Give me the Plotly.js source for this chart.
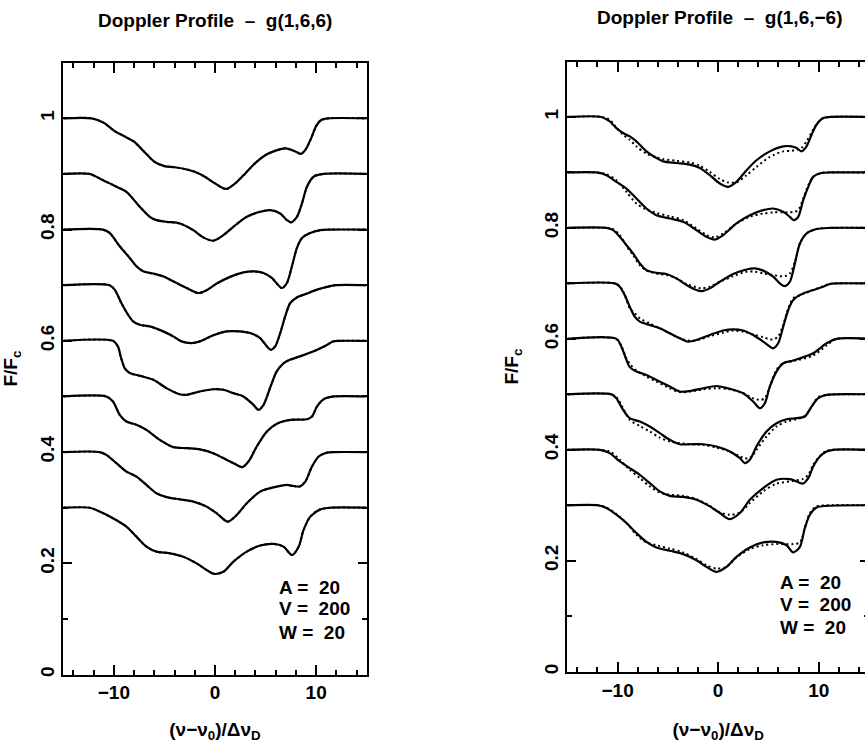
<!DOCTYPE html>
<html><head><meta charset="utf-8">
<script src="https://cdn.plot.ly/plotly-3.0.1.min.js"></script>
<style>html,body{margin:0;padding:0;overflow:hidden;background:#fff;width:865px;height:743px}#g{width:872px;height:743px}</style>
</head><body><div id="g"></div>
<script>
// ---- Left panel: g(1,6,6) (solid model ≈ dotted observation) ----
const L1x=[-15,-12.2,-11,-10,-9,-8,-7,-6,-5,-4,-3,-2,-1,0,1.1,2,3,4,5,6,7,8,8.5,9,9.5,10,10.5,11.2,15];
const L1y=[1,1,.992,.978,.968,.958,.940,.922,.914,.912,.909,.904,.895,.883,.873,.883,.901,.920,.934,.942,.946,.940,.936,.945,.964,.986,.997,1,1];
const L2x=[-15,-12.4,-11.41,-10.09,-8.76,-7.44,-6.45,-5.79,-4.79,-3.47,-2.15,-1.16,-0.17,0.83,1.82,3.14,4.46,5.46,6.45,7.11,7.51,8.1,8.6,9.09,9.75,10.75,15];
const L2y=[.9,.9,.892,.880,.868,.841,.823,.817,.814,.811,.799,.786,.780,.790,.805,.823,.832,.835,.829,.817,.813,.823,.847,.877,.895,.9,.9];
const L3x=[-15,-11.08,-10.42,-9.42,-8.43,-7.77,-7.11,-6.12,-5.13,-4.13,-2.81,-1.65,-0.83,0.17,1.49,2.81,3.80,4.79,5.62,6.61,7.11,7.61,8.1,8.6,9.42,10.42,11.41,15];
const L3y=[.8,.8,.794,.770,.749,.734,.725,.721,.716,.707,.695,.686,.691,.703,.715,.723,.725,.722,.713,.695,.704,.734,.767,.785,.794,.799,.8,.8];
const L4x=[-15,-10.42,-9.92,-9.26,-8.6,-8.1,-7.44,-6.45,-5.13,-4.13,-3.31,-2.31,-1.49,-0.17,1.16,2.48,3.47,4.46,5.13,5.52,5.95,6.45,6.94,7.44,8.1,9.09,10.09,11.08,11.9,15];
const L4y=[.7,.7,.692,.668,.647,.635,.629,.626,.617,.608,.599,.596,.599,.610,.617,.617,.614,.605,.590,.584,.590,.614,.644,.668,.678,.685,.692,.697,.7,.7];
const L5x=[-15,-10.1,-9.6,-9.3,-8.9,-8.4,-7.4,-6.1,-4.8,-3.5,-2.8,-1.5,-0.17,0.83,1.8,2.8,3.8,4.3,4.8,5.5,6.1,6.8,7.4,8.4,10.1,11.1,11.7,12.3,15];
const L5y=[.6,.6,.59,.57,.55,.542,.537,.53,.515,.504,.503,.509,.513,.512,.506,.50,.485,.476,.485,.518,.545,.56,.566,.572,.584,.593,.599,.6,.6];
const L6x=[-15,-10.75,-10.09,-9.42,-8.76,-7.77,-6.78,-5.46,-4.13,-2.81,-1.49,-0.17,1.16,2.15,2.71,3.31,4.13,5.13,6.12,7.44,9.09,9.59,10.09,10.75,11.74,15];
const L6y=[.5,.5,.491,.467,.455,.449,.440,.422,.409,.407,.405,.398,.386,.377,.373,.383,.410,.437,.451,.458,.459,.464,.482,.495,.5,.5];
const L7x=[-15,-11.41,-10.75,-9.75,-8.76,-7.77,-6.78,-5.79,-4.79,-3.47,-2.15,-0.83,0.17,1.26,2.15,3.14,4.46,6.12,7.11,7.77,8.37,8.93,9.59,10.25,11.08,11.74,15];
const L7y=[.4,.4,.395,.380,.365,.356,.341,.326,.319,.315,.311,.302,.290,.275,.287,.308,.329,.338,.341,.339,.338,.347,.374,.392,.399,.4,.4];
const L8x=[-15,-12.4,-11.41,-10.09,-8.76,-7.77,-6.78,-5.79,-4.46,-3.14,-1.82,-0.83,-0.07,0.83,1.82,3.14,4.46,5.79,6.78,7.61,8.27,8.76,9.42,10.42,11.41,15];
const L8y=[.3,.3,.293,.281,.266,.248,.230,.221,.218,.212,.200,.188,.181,.185,.203,.221,.232,.235,.230,.215,.230,.260,.284,.297,.3,.3];

// ---- Right panel: g(1,6,-6): solid (s) and dotted (d) ----
const R1x=[-15,-11.61,-10.78,-10.12,-9.45,-8.79,-8.13,-7.13,-6.14,-5.47,-4.15,-2.82,-1.82,-0.83,0.17,1.0,1.82,2.82,3.81,5.14,6.47,7.3,7.8,8.29,8.79,9.29,9.78,10.45,11.11,15];
const R1s=[1,1,.992,.980,.971,.965,.956,.938,.926,.920,.917,.914,.908,.895,.880,.874,.883,.904,.922,.938,.947,.947,.944,.938,.947,.968,.986,.998,1,1];
const R1d=[1,1,.995,.981,.968,.959,.947,.934,.927,.924,.921,.918,.912,.901,.888,.882,.882,.895,.910,.928,.938,.939,.941,.944,.956,.972,.987,.998,1,1];
const R2x=[-15,-12.1,-11.11,-10.12,-9.12,-8.13,-7.13,-6.14,-4.81,-3.48,-2.16,-1.16,-0.33,0.5,1.82,3.15,4.48,5.47,6.47,7.13,7.53,7.96,8.46,8.96,9.45,10.28,11.11,15];
const R2s=[.9,.9,.895,.883,.871,.853,.835,.823,.817,.811,.796,.784,.779,.787,.808,.823,.832,.835,.829,.820,.814,.820,.850,.874,.892,.899,.9,.9];
const R2d=[.9,.9,.897,.886,.865,.844,.833,.827,.821,.814,.799,.787,.783,.790,.808,.820,.826,.828,.828,.828,.829,.832,.853,.877,.892,.899,.9,.9];
const R3x=[-15,-11.11,-10.45,-9.78,-9.12,-8.46,-7.79,-7.13,-6.14,-5.14,-4.15,-3.15,-2.16,-1.66,-0.83,0.17,1.49,2.82,3.65,4.48,5.47,6.14,6.63,7.13,7.63,8.13,8.79,9.78,11.11,15];
const R3s=[.8,.8,.796,.784,.769,.754,.736,.724,.719,.717,.709,.697,.688,.686,.691,.703,.717,.725,.727,.723,.712,.700,.695,.703,.736,.772,.790,.798,.8,.8];
const R3d=[.8,.8,.798,.787,.768,.751,.733,.723,.718,.715,.709,.699,.693,.691,.694,.703,.713,.721,.721,.718,.715,.713,.713,.718,.739,.772,.790,.798,.8,.8];
const R4x=[-15,-10.28,-9.78,-9.29,-8.79,-8.29,-7.79,-6.8,-5.8,-4.81,-3.81,-2.99,-2.16,-0.83,0.5,1.49,2.49,3.48,4.48,5.14,5.47,5.97,6.47,6.97,7.46,8.46,9.45,10.45,11.11,11.77,15];
const R4s=[.7,.7,.694,.679,.658,.640,.631,.625,.619,.610,.601,.595,.598,.607,.615,.617,.615,.607,.595,.586,.583,.592,.622,.652,.670,.682,.688,.694,.699,.7,.7];
const R4d=[.7,.7,.695,.679,.655,.646,.637,.628,.619,.610,.601,.597,.597,.605,.611,.615,.613,.608,.603,.599,.599,.604,.625,.655,.673,.681,.688,.695,.699,.7,.7];
const R5x=[-15,-10.12,-9.62,-9.12,-8.79,-8.13,-7.13,-6.14,-4.81,-3.81,-2.82,-1.49,-0.17,1.16,2.49,3.48,4.15,4.64,5.14,5.8,6.47,7.46,9.45,10.78,11.77,15];
const R5s=[.6,.6,.586,.562,.549,.541,.535,.526,.514,.505,.506,.511,.515,.510,.502,.487,.475,.484,.514,.541,.556,.561,.574,.592,.6,.6];
const R5d=[.6,.6,.587,.565,.555,.543,.532,.523,.511,.504,.505,.509,.511,.509,.502,.493,.490,.493,.514,.544,.556,.560,.570,.588,.6,.6];
const R6x=[-15,-10.61,-10.12,-9.45,-8.79,-7.79,-6.8,-5.8,-4.81,-3.81,-2.82,-1.49,-0.17,1.16,2.16,2.65,3.15,3.81,4.81,5.8,6.8,7.79,8.62,9.29,9.95,10.78,15];
const R6s=[.5,.5,.493,.472,.457,.451,.442,.430,.418,.410,.410,.410,.406,.397,.385,.376,.382,.406,.433,.448,.455,.457,.460,.478,.493,.499,.5];
const R6d=[.5,.5,.495,.475,.454,.443,.433,.422,.415,.412,.410,.409,.404,.397,.388,.385,.385,.400,.424,.442,.451,.455,.461,.478,.495,.499,.5];
const R7x=[-15,-11.77,-10.78,-9.78,-8.79,-7.79,-6.8,-5.8,-4.81,-3.48,-2.16,-0.83,0.17,1.16,2.16,3.15,4.48,5.8,7.13,7.79,8.39,8.96,9.45,10.12,10.78,11.44,15];
const R7s=[.4,.4,.394,.379,.367,.355,.340,.325,.317,.315,.310,.298,.286,.275,.286,.310,.331,.346,.347,.343,.339,.349,.370,.388,.397,.4,.4];
const R7d=[.4,.4,.397,.382,.364,.349,.334,.323,.319,.317,.311,.299,.287,.283,.287,.304,.325,.339,.343,.345,.347,.355,.373,.389,.398,.4,.4];
const R8x=[-15,-11.94,-11.11,-10.12,-9.12,-8.13,-7.13,-6.14,-4.81,-3.48,-2.16,-1.16,-0.17,0.83,1.82,3.15,4.48,5.8,6.8,7.46,8.13,8.62,9.12,9.78,10.78,15];
const R8s=[.3,.3,.295,.283,.268,.250,.234,.224,.218,.212,.201,.189,.180,.189,.207,.224,.233,.234,.228,.215,.225,.259,.283,.296,.299,.3];
const R8d=[.3,.3,.296,.284,.268,.247,.233,.228,.222,.215,.203,.192,.186,.189,.206,.221,.228,.230,.230,.230,.233,.259,.286,.298,.3,.3];

const xTicks=[-10,0,10];
const yTicks=[0,0.2,0.4,0.6,0.8,1];
const yTickText=["0","0.2","0.4","0.6","0.8","1"];
const paramLines=["A =\u00a0\u00a020","V =\u00a0\u00a0200","W =\u00a0\u00a020"];
const paramY=[0.157,0.118,0.075];

const FONT="Liberation Sans, Arial, sans-serif";
const W=872,H=743;
const traces=[];
const solid={color:"#000",width:2.2,shape:"spline",smoothing:0.8};
const dotted={color:"#000",width:2,dash:"2px,3px",shape:"spline",smoothing:0.8};
[[L1x,L1y],[L2x,L2y],[L3x,L3y],[L4x,L4y],[L5x,L5y],[L6x,L6y],[L7x,L7y],[L8x,L8y]].forEach(([x,y])=>{
  traces.push({x:x,y:y,xaxis:"x",yaxis:"y",mode:"lines",line:dotted,hoverinfo:"skip"});
  traces.push({x:x,y:y,xaxis:"x",yaxis:"y",mode:"lines",line:solid,hoverinfo:"skip"});
});
[[R1x,R1s,R1d],[R2x,R2s,R2d],[R3x,R3s,R3d],[R4x,R4s,R4d],[R5x,R5s,R5d],[R6x,R6s,R6d],[R7x,R7s,R7d],[R8x,R8s,R8d]].forEach(([x,s,d])=>{
  traces.push({x:x,y:d,xaxis:"x2",yaxis:"y2",mode:"lines",line:dotted,hoverinfo:"skip"});
  traces.push({x:x,y:s,xaxis:"x2",yaxis:"y2",mode:"lines",line:solid,hoverinfo:"skip"});
});

const tf={family:FONT,size:19,color:"#000",weight:"bold"};
function xa(dom,anchor){return {domain:dom,anchor:anchor,range:[-15,15],tickvals:xTicks,ticks:"inside",ticklen:10,tickwidth:2,tickcolor:"#000",
  minor:{dtick:2,tick0:0,ticks:"inside",ticklen:5,tickwidth:2,tickcolor:"#000"},
  showline:true,linewidth:2,linecolor:"#000",mirror:"allticks",showgrid:false,zeroline:false,
  tickfont:tf,title:{text:"(ν−ν<sub>0</sub>)/Δν<sub>D</sub>",font:tf}};}
function ya(dom,anchor){return {domain:dom,anchor:anchor,range:[0,1.1],tickvals:yTicks,ticktext:yTickText,ticks:"inside",ticklen:9,tickwidth:2,tickcolor:"#000",
  minor:{tickvals:[0.1,0.3,0.5,0.7,0.9],ticks:"inside",ticklen:5,tickwidth:2,tickcolor:"#000"},
  showline:true,linewidth:2,linecolor:"#000",mirror:"allticks",showgrid:false,zeroline:false,tickangle:-90,
  tickfont:tf,title:{text:"F/F<sub>c</sub>",font:tf}};}

const ann=[
 {xref:"paper",yref:"paper",x:215/W,y:1-20/H,text:"Doppler Profile\u00a0 –\u00a0 g(1,6,6)",showarrow:false,xanchor:"center",yanchor:"middle",font:tf},
 {xref:"paper",yref:"paper",x:719/W,y:1-18/H,text:"Doppler Profile\u00a0 –\u00a0 g(1,6,−6)",showarrow:false,xanchor:"center",yanchor:"middle",font:tf}
];
paramLines.forEach((t,i)=>{
  ann.push({xref:"x",yref:"y",x:6.1,y:paramY[i],text:t,showarrow:false,xanchor:"left",yanchor:"middle",font:tf});
  ann.push({xref:"x2",yref:"y2",x:5.95,y:paramY[i]+0.004,text:t,showarrow:false,xanchor:"left",yanchor:"middle",font:tf});
});

const layout={width:W,height:H,margin:{l:0,r:0,t:0,b:0},paper_bgcolor:"#fff",plot_bgcolor:"#fff",showlegend:false,
 font:{family:FONT,size:19,color:"#000"},
 xaxis:xa([63.3/W,366.7/W],"y"),
 yaxis:ya([(H-674.6)/H,(H-62.7)/H],"x"),
 xaxis2:xa([567.3/W,869/W],"y2"),
 yaxis2:ya([(H-671.7)/H,(H-61.5)/H],"x2"),
 annotations:ann};
Plotly.newPlot("g",traces,layout,{staticPlot:true,displayModeBar:false});
</script></body></html>
